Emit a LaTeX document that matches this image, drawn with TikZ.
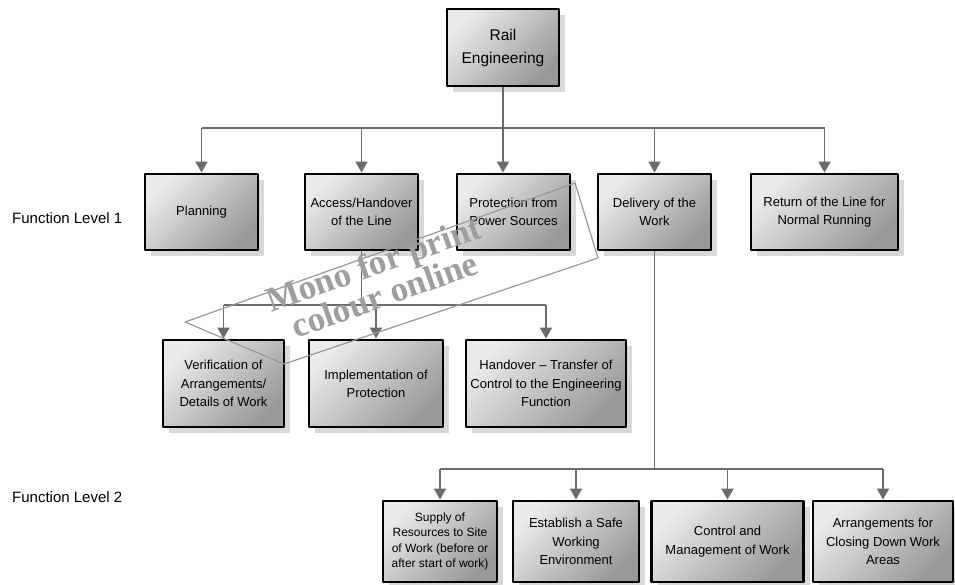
\documentclass[tikz,border=0pt]{standalone}
\usepackage{fontspec}
\setmainfont{Liberation Sans}
\newfontfamily\wmfont{Liberation Serif}
\usetikzlibrary{arrows.meta,shadows}
\begin{document}
\begin{tikzpicture}[line join=round,>={Triangle[length=11pt,width=12pt]},x=1pt,y=-1pt]
	\tikzset{box/.style={draw=black,line width=2.9pt,top color=black!8,bottom color=black!40,shading angle=45,
			drop shadow={shadow xshift=6pt,shadow yshift=-6pt,fill=black!15,opacity=1},
			inner sep=0pt,align=center,font=\fontsize{13}{18.3}\selectfont},
		conn/.style={draw=black!58,line width=1.9pt},
		lbl/.style={anchor=west,inner sep=0pt,font=\fontsize{15}{18}\selectfont}}
	\def\yA{212} \def\yB{383.5} \def\yC{541.5}
	\useasboundingbox (0,0) rectangle (955,584);
	\node[box,minimum width=112pt,minimum height=77pt,font=\fontsize{15.5}{23}\selectfont] (rail) at (503,47.5) {Rail\\Engineering};
	%level 1
	\foreach \n/\x/\w/\txt in {plan/201.5/113/{Planning},acc/361.5/113/{Access/Handover\\of the Line},
		prot/513.5/113/{Protection from\\Power Sources},deliv/654.5/113/{Delivery of the\\Work},
		ret/824.5/147/{Return of the Line for\\Normal Running}}
		\node[box,minimum width=\w pt,minimum height=76pt] (\n) at (\x,\yA) {\txt};
	%level 2
	\foreach \n/\x/\w/\txt in {verif/223.5/121/{Verification of\\Arrangements/\\Details of Work},
		impl/376/134/{Implementation of\\Protection},hand/546/160/{Handover – Transfer of\\Control to the Engineering\\Function}}
		\node[box,minimum width=\w pt,minimum height=87pt] (\n) at (\x,\yB) {\txt};
	\node[box,minimum width=114pt,minimum height=81pt,font=\fontsize{12}{15.3}\selectfont] (supply) at (440,\yC)
		{Supply of\\Resources to Site\\of Work (before or\\after start of work)};
	\foreach \n/\x/\w/\txt in {estab/576/126/{Establish a Safe\\Working\\Environment},
		ctrl/727.5/152/{Control and\\Management of Work},arr/883/140/{Arrangements for\\Closing Down Work\\Areas}}
		\node[box,minimum width=\w pt,minimum height=81pt] (\n) at (\x,\yC) {\txt};
	\node[lbl] (fl1) at (12,218) {Function Level 1};
	\node[lbl] (fl2) at (12,497) {Function Level 2};
	%connectors
	\coordinate (b1) at (503,128);
	\draw[conn] (rail) -- (b1) (b1 -| plan) -- (b1 -| ret);
	\foreach \n in {plan,acc,deliv,ret} \draw[conn,->] (b1 -| \n) -- (\n);
	\draw[conn,->] (b1) -- (b1 |- prot.north);
	\coordinate (b2) at (361.5,305);
	\draw[conn] (acc) -- (b2) (b2 -| verif) -- (b2 -| hand);
	\foreach \n in {verif,impl,hand} \draw[conn,->] (b2 -| \n) -- (\n);
	\coordinate (b3) at (654.5,469);
	\draw[conn] (deliv) -- (b3) (b3 -| supply) -- (b3 -| arr);
	\foreach \n in {supply,estab,ctrl,arr} \draw[conn,->] (b3 -| \n) -- (\n);
	%watermark
	\draw[black!40,line width=1.2pt] (185,322) -- (575,183) -- (598,258) -- (284,364) -- cycle;
	\node[rotate=19.5,text=black!38,font=\wmfont\bfseries\fontsize{35}{30}\selectfont,align=center,inner sep=0pt] (wm)
		at (379,279) {Mono for print\\colour online};
\end{tikzpicture}
\end{document}
